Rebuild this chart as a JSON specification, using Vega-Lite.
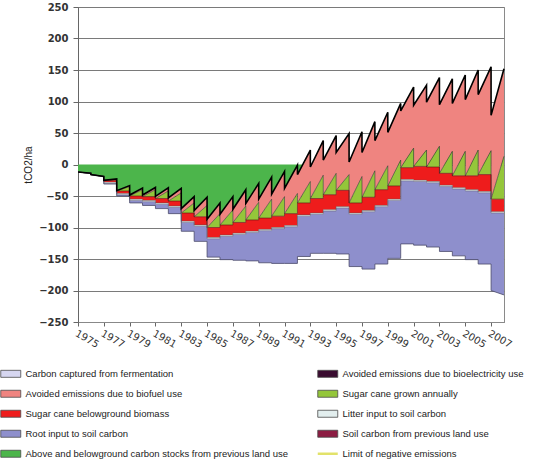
{
 "$schema": "https://vega.github.io/schema/vega-lite/v6.json",
 "width": 426, "height": 315,
 "autosize": {"type": "none"},
 "padding": {"left": 78, "top": 7, "right": 49, "bottom": 141},
 "background": "white",
 "config": {"view": {"stroke": "#8a8a8a"}, "axis": {"labelFont": "DejaVu Sans", "titleFont": "Liberation Sans"},
  "axisY": {"grid": true, "gridColor": "#7a7a7a", "ticks": true, "tickSize": 5, "tickColor": "#666", "labelPadding": 5, "labelFontSize": 10, "labelFontWeight": "bold", "labelColor": "#333", "domainColor": "#666",
   "titleFontSize": 10, "titleFontWeight": "normal", "titleColor": "#222", "titlePadding": 5}},
 "data": {"values": [
  {"x":1975,"T":-12,"G":-12,"R":-12,"L":-12,"Lb":-12,"B":-12},
  {"x":1975.998,"T":-14,"G":-14,"R":-14,"L":-14,"Lb":-14,"B":-14},
  {"x":1976,"T":-16,"G":-16,"R":-16,"L":-16,"Lb":-16,"B":-16},
  {"x":1976.998,"T":-19,"G":-19,"R":-19,"L":-19,"Lb":-19,"B":-19},
  {"x":1977,"T":-25,"G":-25,"R":-25,"L":-28,"Lb":-30,"B":-31},
  {"x":1977.998,"T":-23,"G":-23.5,"R":-25,"L":-28,"Lb":-30,"B":-31},
  {"x":1978,"T":-41.5,"G":-42,"R":-42,"L":-46,"Lb":-48,"B":-50},
  {"x":1978.998,"T":-33.5,"G":-35,"R":-42,"L":-46,"Lb":-48,"B":-50},
  {"x":1979,"T":-48.5,"G":-50,"R":-50,"L":-55,"Lb":-57,"B":-61},
  {"x":1979.998,"T":-37.5,"G":-40,"R":-50,"L":-55,"Lb":-57,"B":-61},
  {"x":1980,"T":-48.5,"G":-51,"R":-51,"L":-57,"Lb":-59,"B":-65},
  {"x":1980.998,"T":-36.5,"G":-40,"R":-51,"L":-57,"Lb":-59,"B":-65},
  {"x":1981,"T":-50.5,"G":-54,"R":-54,"L":-61,"Lb":-63,"B":-70},
  {"x":1981.998,"T":-37,"G":-42,"R":-54,"L":-61,"Lb":-63,"B":-70},
  {"x":1982,"T":-53,"G":-58,"R":-58,"L":-66,"Lb":-68,"B":-78},
  {"x":1982.998,"T":-38,"G":-45,"R":-58,"L":-66,"Lb":-68,"B":-78},
  {"x":1983,"T":-70,"G":-77,"R":-77,"L":-90,"Lb":-92,"B":-106},
  {"x":1983.998,"T":-51,"G":-61,"R":-77,"L":-90,"Lb":-92,"B":-106},
  {"x":1984,"T":-73,"G":-83,"R":-83,"L":-96,"Lb":-98,"B":-122},
  {"x":1984.998,"T":-52,"G":-65,"R":-83,"L":-96,"Lb":-98,"B":-122},
  {"x":1985,"T":-87,"G":-100,"R":-100,"L":-116,"Lb":-118,"B":-147},
  {"x":1985.998,"T":-61,"G":-78,"R":-100,"L":-116,"Lb":-118,"B":-147},
  {"x":1986,"T":-79,"G":-96,"R":-96,"L":-112,"Lb":-114,"B":-151},
  {"x":1986.998,"T":-51,"G":-72,"R":-96,"L":-112,"Lb":-114,"B":-151},
  {"x":1987,"T":-71,"G":-92,"R":-92,"L":-109,"Lb":-111,"B":-152},
  {"x":1987.998,"T":-40,"G":-66,"R":-92,"L":-109,"Lb":-111,"B":-152},
  {"x":1988,"T":-62,"G":-88,"R":-88,"L":-106,"Lb":-108,"B":-153},
  {"x":1988.998,"T":-30,"G":-60,"R":-88,"L":-106,"Lb":-108,"B":-153},
  {"x":1989,"T":-55,"G":-85,"R":-85,"L":-103,"Lb":-105,"B":-156},
  {"x":1989.998,"T":-20,"G":-55,"R":-85,"L":-103,"Lb":-105,"B":-156},
  {"x":1990,"T":-47,"G":-82,"R":-82,"L":-100,"Lb":-102,"B":-157},
  {"x":1990.998,"T":-11,"G":-51,"R":-82,"L":-100,"Lb":-102,"B":-157},
  {"x":1991,"T":-38,"G":-78,"R":-78,"L":-97,"Lb":-99,"B":-157},
  {"x":1991.998,"T":-1,"G":-46,"R":-78,"L":-97,"Lb":-99,"B":-157},
  {"x":1992,"T":-16,"G":-61,"R":-61,"L":-80,"Lb":-82,"B":-146},
  {"x":1992.998,"T":23,"G":-27,"R":-61,"L":-80,"Lb":-82,"B":-146},
  {"x":1993,"T":-4,"G":-54,"R":-54,"L":-77,"Lb":-79,"B":-141},
  {"x":1993.998,"T":38,"G":-17,"R":-54,"L":-77,"Lb":-79,"B":-141},
  {"x":1994,"T":7,"G":-48,"R":-48,"L":-72,"Lb":-74,"B":-141},
  {"x":1994.998,"T":46,"G":-14,"R":-48,"L":-72,"Lb":-74,"B":-141},
  {"x":1995,"T":19,"G":-41,"R":-41,"L":-67,"Lb":-69,"B":-142},
  {"x":1995.998,"T":49,"G":-16,"R":-41,"L":-67,"Lb":-69,"B":-142},
  {"x":1996,"T":4,"G":-61,"R":-61,"L":-77,"Lb":-79,"B":-162},
  {"x":1996.998,"T":52,"G":-19,"R":-61,"L":-77,"Lb":-79,"B":-162},
  {"x":1997,"T":19,"G":-52,"R":-52,"L":-73,"Lb":-75,"B":-166},
  {"x":1997.998,"T":68,"G":-10,"R":-52,"L":-73,"Lb":-75,"B":-166},
  {"x":1998,"T":38,"G":-40,"R":-40,"L":-65,"Lb":-67,"B":-158},
  {"x":1998.998,"T":83,"G":-2,"R":-40,"L":-65,"Lb":-67,"B":-158},
  {"x":1999,"T":51,"G":-34,"R":-34,"L":-55,"Lb":-57,"B":-149},
  {"x":1999.998,"T":97,"G":7,"R":-34,"L":-55,"Lb":-57,"B":-149},
  {"x":2000,"T":85,"G":-5,"R":-5,"L":-24,"Lb":-26,"B":-126},
  {"x":2000.998,"T":123,"G":26,"R":-5,"L":-24,"Lb":-26,"B":-126},
  {"x":2001,"T":94,"G":-3,"R":-3,"L":-25,"Lb":-27,"B":-128},
  {"x":2001.998,"T":126,"G":23,"R":-3,"L":-25,"Lb":-27,"B":-128},
  {"x":2002,"T":99,"G":-4,"R":-4,"L":-27,"Lb":-29,"B":-131},
  {"x":2002.998,"T":138,"G":29,"R":-4,"L":-27,"Lb":-29,"B":-131},
  {"x":2003,"T":95,"G":-14,"R":-14,"L":-33,"Lb":-35,"B":-138},
  {"x":2003.998,"T":136,"G":21,"R":-14,"L":-33,"Lb":-35,"B":-138},
  {"x":2004,"T":97,"G":-18,"R":-18,"L":-37,"Lb":-39,"B":-145},
  {"x":2004.998,"T":142,"G":21,"R":-18,"L":-37,"Lb":-39,"B":-145},
  {"x":2005,"T":103,"G":-18,"R":-18,"L":-40,"Lb":-42,"B":-151},
  {"x":2005.998,"T":150,"G":23,"R":-18,"L":-40,"Lb":-42,"B":-151},
  {"x":2006,"T":111,"G":-16,"R":-16,"L":-43,"Lb":-45,"B":-158},
  {"x":2006.998,"T":155,"G":22,"R":-16,"L":-43,"Lb":-45,"B":-158},
  {"x":2007,"T":78,"G":-55,"R":-55,"L":-75,"Lb":-77,"B":-200},
  {"x":2007.998,"T":152,"G":13,"R":-55,"L":-75,"Lb":-77,"B":-207}
 ]},
 "encoding": {
  "x": {"field": "x", "type": "quantitative",
   "scale": {"domain": [1975, 2008], "nice": false, "zero": false},
   "axis": {"title": null, "values": [1975,1977,1979,1981,1983,1985,1987,1989,1991,1993,1995,1997,1999,2001,2003,2005,2007],
    "format": "d", "labelAngle": 30, "labelAlign": "left", "labelBaseline": "top", "labelFontSize": 10, "labelColor": "#333",
    "tickSize": 4, "tickColor": "#666", "domainColor": "#888", "grid": false, "labelOverlap": false, "labelPadding": 2, "labelFlush": false, "labelBound": false}}
 },
 "layer": [
  {"mark": {"type": "area", "opacity": 1},
   "encoding": {
    "y": {"field": "T", "type": "quantitative", "scale": {"domain": [-250, 250], "nice": false},
     "axis": {"title": "tCO2/ha", "values": [-250,-200,-150,-100,-50,0,50,100,150,200,250]}},
    "y2": {"datum": 0},
    "color": {"datum": "Above and belowground carbon stocks from previous land use", "type": "nominal",
     "scale": {"domain": ["Carbon captured from fermentation", "Avoided emissions due to biofuel use", "Sugar cane belowground biomass", "Root input to soil carbon", "Above and belowground carbon stocks from previous land use", "Avoided emissions due to bioelectricity use", "Sugar cane grown annually", "Litter input to soil carbon", "Soil carbon from previous land use", "Limit of negative emissions"],
      "range": ["#d6d6f0", "#ef8480", "#ee1c1c", "#8e8fcc", "#4cb54b", "#3a0c30", "#94c63a", "#e2eeee", "#8c1c42", "#e2e26a"]},
     "legend": {"orient": "none", "legendX": -72, "legendY": 362, "columns": 2, "columnPadding": 24, "rowPadding": 9,
      "padding": 0, "title": null, "symbolSize": 400, "symbolType": "M-1,-0.35H1V0.35H-1Z", "symbolStrokeColor": "#4a4a4a", "symbolStrokeWidth": 0.8,
      "labelFont": "Liberation Sans", "labelFontSize": 9.5, "labelColor": "#222", "labelLimit": 400, "labelOffset": 10,
      "encoding": {"symbols": {
        "shape": {"value": {"expr": "datum.label === 'Limit of negative emissions' ? 'M-1,0H1' : 'M-1,-0.35H1V0.35H-1Z'"}},
        "stroke": {"value": {"expr": "datum.label === 'Limit of negative emissions' ? '#e2e26a' : '#4a4a4a'"}},
        "strokeWidth": {"value": {"expr": "datum.label === 'Limit of negative emissions' ? 2.5 : 0.8"}}}}}}
   }},
  {"mark": {"type": "area", "opacity": 1},
   "encoding": {"y": {"field": "T", "type": "quantitative", "axis": {"title": "tCO2/ha", "values": [-250,-200,-150,-100,-50,0,50,100,150,200,250]}}, "y2": {"field": "G"}, "color": {"datum": "Avoided emissions due to biofuel use", "type": "nominal"}}},
  {"mark": {"type": "area", "opacity": 1},
   "encoding": {"y": {"field": "G", "type": "quantitative", "axis": {"title": "tCO2/ha", "values": [-250,-200,-150,-100,-50,0,50,100,150,200,250]}}, "y2": {"field": "R"}, "color": {"datum": "Sugar cane grown annually", "type": "nominal"}}},
  {"mark": {"type": "area", "opacity": 1},
   "encoding": {"y": {"field": "R", "type": "quantitative", "axis": {"title": "tCO2/ha", "values": [-250,-200,-150,-100,-50,0,50,100,150,200,250]}}, "y2": {"field": "L"}, "color": {"datum": "Sugar cane belowground biomass", "type": "nominal"}}},
  {"mark": {"type": "area", "opacity": 1},
   "encoding": {"y": {"field": "L", "type": "quantitative", "axis": {"title": "tCO2/ha", "values": [-250,-200,-150,-100,-50,0,50,100,150,200,250]}}, "y2": {"field": "Lb"}, "color": {"datum": "Litter input to soil carbon", "type": "nominal"}}},
  {"mark": {"type": "area", "opacity": 1},
   "encoding": {"y": {"field": "Lb", "type": "quantitative", "axis": {"title": "tCO2/ha", "values": [-250,-200,-150,-100,-50,0,50,100,150,200,250]}}, "y2": {"field": "B"}, "color": {"datum": "Root input to soil carbon", "type": "nominal"}}},
  {"mark": {"type": "line", "color": "#333", "strokeWidth": 0.6},
   "encoding": {"y": {"field": "G", "type": "quantitative", "axis": {"title": "tCO2/ha", "values": [-250,-200,-150,-100,-50,0,50,100,150,200,250]}}}},
  {"mark": {"type": "line", "color": "#5a1010", "strokeWidth": 0.6},
   "encoding": {"y": {"field": "R", "type": "quantitative", "axis": {"title": "tCO2/ha", "values": [-250,-200,-150,-100,-50,0,50,100,150,200,250]}}}},
  {"mark": {"type": "line", "color": "#555", "strokeWidth": 0.5},
   "encoding": {"y": {"field": "L", "type": "quantitative", "axis": {"title": "tCO2/ha", "values": [-250,-200,-150,-100,-50,0,50,100,150,200,250]}}}},
  {"mark": {"type": "line", "color": "#667", "strokeWidth": 0.5},
   "encoding": {"y": {"field": "Lb", "type": "quantitative", "axis": {"title": "tCO2/ha", "values": [-250,-200,-150,-100,-50,0,50,100,150,200,250]}}}},
  {"mark": {"type": "line", "color": "#4a4a6a", "strokeWidth": 0.8},
   "encoding": {"y": {"field": "B", "type": "quantitative", "axis": {"title": "tCO2/ha", "values": [-250,-200,-150,-100,-50,0,50,100,150,200,250]}}}},
  {"mark": {"type": "line", "color": "#000", "strokeWidth": 1.6},
   "encoding": {"y": {"field": "T", "type": "quantitative", "axis": {"title": "tCO2/ha", "values": [-250,-200,-150,-100,-50,0,50,100,150,200,250]}}}}
 ]
}
